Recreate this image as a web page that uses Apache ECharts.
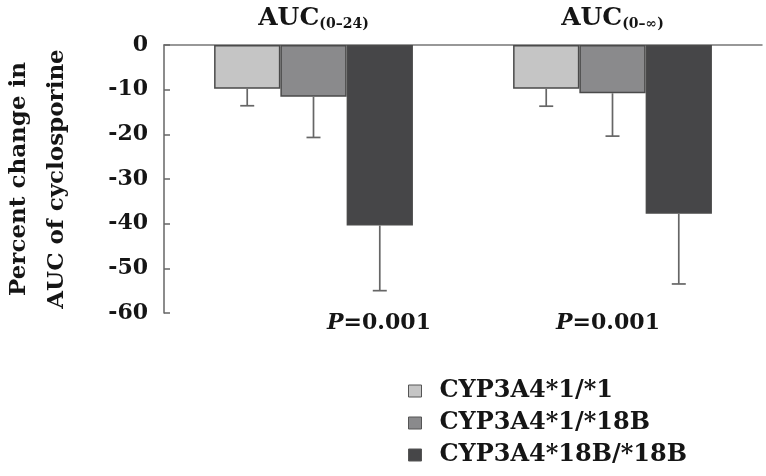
<!DOCTYPE html>
<html>
<head>
<meta charset="utf-8">
<script src="https://cdn.jsdelivr.net/npm/echarts@6/dist/echarts.min.js"></script>
<style>html,body{margin:0;padding:0;background:#fff}#c{width:766px;height:476px}</style>
</head>
<body>
<div id="c"></div>
<script>
var categories = ['AUC_0_24', 'AUC_0_inf'];
var categoryLabels = ['{a|AUC}{s|(0–24)}', '{a|AUC}{s|(0–∞)}'];
var seriesNames = ['CYP3A4*1/*1', 'CYP3A4*1/*18B', 'CYP3A4*18B/*18B'];
var wt11 = [-9.8, -9.8];
var het118B = [-11.6, -10.8];
var hom18B = [-40.4, -37.8];
var sd11 = [3.8, 3.9];
var sdHet = [9.1, 9.6];
var sdHom = [14.6, 15.7];
var pLabels = ['P=0.001', 'P=0.001'];
var yTicks = [0, -10, -20, -30, -40, -50, -60];

var FONT = 'DejaVu Serif';
var TXT = '#151515';
var colors = ['#c5c5c5', '#8a8a8c', '#464648'];
var GAP = 0.335;
var values = [wt11, het118B, hom18B];
var sds = [sd11, sdHet, sdHom];

var chart = echarts.init(document.getElementById('c'));

function errorSeries(idx) {
  return {
    type: 'custom',
    silent: true,
    z: 5,
    data: categories.map(function (c, i) { return [i, values[idx][i], sds[idx][i]]; }),
    encode: { x: 0, y: 1 },
    renderItem: function (params, api) {
      var cat = api.value(0), v = api.value(1), sd = api.value(2);
      var p0 = api.coord([cat, v]);
      var p1 = api.coord([cat, v - sd]);
      var band = api.size([1, 0])[0];
      var bw = band * (1 - GAP) / 3;
      var x = p0[0] + (idx - 1) * bw;
      var cap = 7;
      var st = { stroke: '#666', lineWidth: 1.7 };
      return {
        type: 'group',
        children: [
          { type: 'line', shape: { x1: x, y1: p0[1], x2: x, y2: p1[1] }, style: st },
          { type: 'line', shape: { x1: x - cap, y1: p1[1], x2: x + cap, y2: p1[1] }, style: st }
        ]
      };
    }
  };
}

var barSeries = seriesNames.map(function (n, i) {
  return {
    name: n,
    type: 'bar',
    data: values[i],
    barGap: '0%',
    barCategoryGap: (GAP * 100) + '%',
    itemStyle: { color: colors[i], borderColor: '#4a4a4a', borderWidth: 1.5 },
    z: 2
  };
});

function pText(i, x) {
  return { type: 'text', x: x, y: 323, style: { text: '{i|' + pLabels[i].charAt(0) + '}{n|' + pLabels[i].slice(1) + '}', textAlign: 'center', textVerticalAlign: 'middle',
    rich: { i: { fontFamily: FONT, fontWeight: 'bold', fontStyle: 'italic', fontSize: 22, fill: TXT },
            n: { fontFamily: FONT, fontWeight: 'bold', fontSize: 22, fill: TXT } } } };
}

chart.setOption({
  animation: false,
  backgroundColor: '#fff',
  grid: { left: 164, top: 45, right: 4, bottom: 163, outerBoundsMode: 'none', containLabel: false },
  legend: {
    orient: 'vertical',
    left: 408,
    top: 379,
    padding: 0,
    itemWidth: 13,
    itemHeight: 12,
    itemGap: 8,
    icon: 'rect',
    data: seriesNames,
    itemStyle: { borderColor: '#555', borderWidth: 1 },
    textStyle: { fontFamily: FONT, fontWeight: 'bold', fontSize: 24, color: TXT, lineHeight: 23.5, padding: [0, 0, 0, 13] }
  },
  xAxis: {
    type: 'category',
    position: 'top',
    data: categories,
    axisLine: { show: true, lineStyle: { color: '#777', width: 1.5 } },
    axisTick: { show: false },
    axisLabel: {
      margin: 14,
      formatter: function (v, i) { return categoryLabels[i]; },
      rich: {
        a: { fontFamily: FONT, fontWeight: 'bold', fontSize: 25, color: TXT, lineHeight: 25, padding: [0, 0, 4, 0], verticalAlign: 'top' },
        s: { fontFamily: FONT, fontWeight: 'bold', fontSize: 14, color: TXT, lineHeight: 14, verticalAlign: 'bottom' }
      }
    }
  },
  yAxis: {
    type: 'value',
    min: -60,
    max: 0,
    interval: 10,
    name: 'Percent change in\nAUC of cyclosporine',
    nameLocation: 'middle',
    nameRotate: 90,
    nameGap: 88,
    nameTextStyle: { fontFamily: FONT, fontWeight: 'bold', fontSize: 23, lineHeight: 38, color: TXT },
    splitLine: { show: false },
    axisLine: { show: true, lineStyle: { color: '#666', width: 1.5 } },
    axisTick: { show: true, inside: true, length: 6, lineStyle: { color: '#666', width: 1.5 } },
    axisLabel: {
      margin: 16,
      fontFamily: FONT, fontWeight: 'bold', fontSize: 22, color: TXT,
      formatter: function (v) { return yTicks.indexOf(v) >= 0 ? String(v) : ''; }
    }
  },
  graphic: [pText(0, 379), pText(1, 608)],
  series: barSeries.concat([errorSeries(0), errorSeries(1), errorSeries(2)])
});
</script>
</body>
</html>
